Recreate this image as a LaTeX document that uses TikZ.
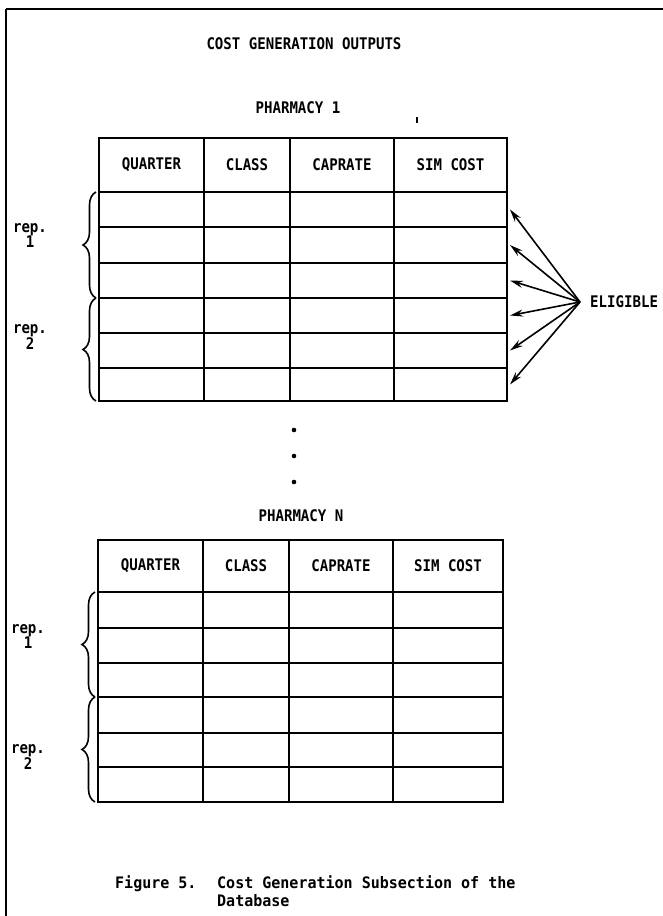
\documentclass[tikz,border=0pt]{standalone}
\usepackage{fontspec}
\usetikzlibrary{arrows.meta,decorations.pathreplacing}
\newfontfamily\tfont[FakeStretch=0.88]{DejaVu Sans Mono Bold}
\newfontfamily\cfont[FakeStretch=0.95]{DejaVu Sans Mono Bold}
\begin{document}
\begin{tikzpicture}[x=1pt,y=-1pt,
  txt/.style={font={\tfont\fontsize{16}{15}\selectfont}, inner sep=0pt},
  captxt/.style={font={\cfont\fontsize{15.8}{18}\selectfont}, inner sep=0pt},
  cell/.style={draw, line width=1.6pt, inner sep=0pt, outer sep=0pt},
  border/.style={line width=2.6pt},
  frame/.style={line width=2pt},
  arr/.style={line width=1.6pt, -{Stealth[length=13pt,width=7pt]}},
  bracestyle/.style={line width=1.6pt, decorate, decoration={brace, amplitude=13pt}},
  replbl/.style={txt, align=center},
  dot/.style={circle, fill, inner sep=0pt, minimum size=4.6pt}
]
\useasboundingbox (0,0) rectangle (663,916);
% frame (top and left only)
\draw[frame] (6,9) -- (663,9);
\draw[frame] (6,9) -- (6,916);

% titles
\node[txt] (title) at (304,44) {COST GENERATION OUTPUTS};
\node[txt] (ph1) at (298,108) {PHARMACY 1};
\draw[line width=1.6pt] (417,117) -- (417,123);

% table A
\foreach \c/\xa/\xb/\h in {1/99/204/QUARTER,2/204/290/CLASS,3/290/394/CAPRATE,4/394/507/SIM COST}{
  \node[cell, txt, minimum width={(\xb-\xa)*1pt}, minimum height=54pt] (A-0-\c) at ({(\xa+\xb)/2},165) {\h};
  \foreach \r/\ya/\yb in {1/192/227,2/227/263,3/263/298,4/298/333,5/333/368,6/368/401}{
    \node[cell, minimum width={(\xb-\xa)*1pt}, minimum height={(\yb-\ya)*1pt}] (A-\r-\c) at ({(\xa+\xb)/2},{(\ya+\yb)/2}) {};
  }
}
\draw[border] (A-0-1.north west) rectangle (A-6-4.south east);
\draw[bracestyle] ([xshift=-3pt]A-3-1.south west) -- ([xshift=-3pt]A-1-1.north west);
\draw[bracestyle] ([xshift=-3pt]A-6-1.south west) -- ([xshift=-3pt]A-4-1.north west);
\node[replbl] (repA1) at (30,236) {rep.\\1};
\node[replbl] (repA2) at (30,337) {rep.\\2};

% eligible arrows
\coordinate (apex) at (580,302);
\node[txt, anchor=west] (elig) at (590,302) {ELIGIBLE};
\foreach \r in {1,...,6}{
  \draw[arr] (apex) -- ([xshift=3pt]A-\r-4.east);
}

% dots
\node[dot] (d1) at (294,430) {};
\node[dot] (d2) at (294,456) {};
\node[dot] (d3) at (294,482) {};

\node[txt] (phN) at (301,516) {PHARMACY N};

% table B
\foreach \c/\xa/\xb/\h in {1/98/203/QUARTER,2/203/289/CLASS,3/289/393/CAPRATE,4/393/503/SIM COST}{
  \node[cell, txt, minimum width={(\xb-\xa)*1pt}, minimum height=52pt] (B-0-\c) at ({(\xa+\xb)/2},566) {\h};
  \foreach \r/\ya/\yb in {1/592/628,2/628/663,3/663/697,4/697/733,5/733/767,6/767/802}{
    \node[cell, minimum width={(\xb-\xa)*1pt}, minimum height={(\yb-\ya)*1pt}] (B-\r-\c) at ({(\xa+\xb)/2},{(\ya+\yb)/2}) {};
  }
}
\draw[border] (B-0-1.north west) rectangle (B-6-4.south east);
\draw[bracestyle] ([xshift=-3pt]B-3-1.south west) -- ([xshift=-3pt]B-1-1.north west);
\draw[bracestyle] ([xshift=-3pt]B-6-1.south west) -- ([xshift=-3pt]B-4-1.north west);
\node[replbl] (repB1) at (28,637) {rep.\\1};
\node[replbl] (repB2) at (28,757) {rep.\\2};

% caption
\node[captxt, anchor=base west] (figlbl) at (115,888) {Figure 5.};
\node[captxt, anchor=base west] (cap1) at (217,888) {Cost Generation Subsection of the};
\node[captxt, anchor=base west] (cap2) at (217,906) {Database};
\end{tikzpicture}
\end{document}
